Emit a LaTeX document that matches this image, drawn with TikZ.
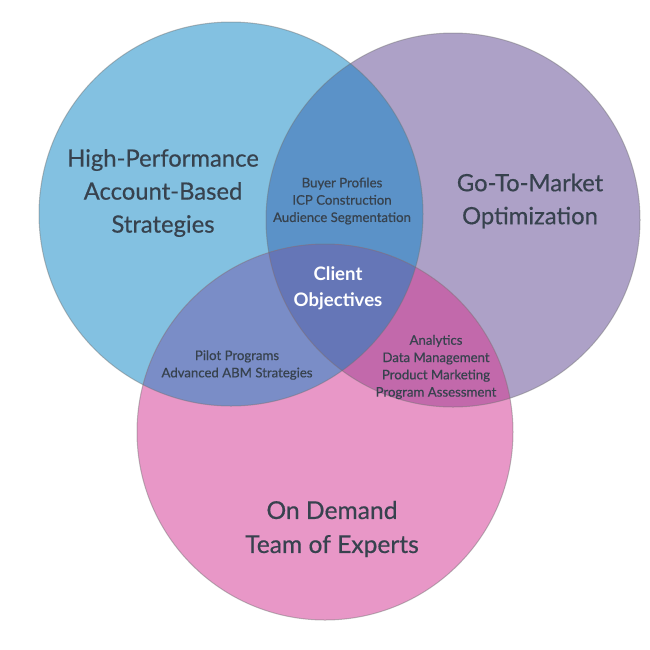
\documentclass[tikz,border=0pt]{standalone}
\usepackage{fontspec}
\setmainfont{Lato}
\newfontfamily\latomed[FakeBold=0.5]{Lato}
\definecolor{cblue}{RGB}{131,193,225}
\definecolor{cpurple}{RGB}{173,161,199}
\definecolor{cpink}{RGB}{232,151,199}
\definecolor{cbp}{RGB}{91,146,200}
\definecolor{cbk}{RGB}{122,141,199}
\definecolor{cpk}{RGB}{194,105,171}
\definecolor{cmid}{RGB}{101,118,183}
\definecolor{ctext}{RGB}{55,66,78}
\tikzset{
  bigtitle/.style={text=ctext, align=center, font=\latomed\fontsize{23.8}{33}\selectfont},
  hugetitle/.style={text=ctext, align=center, font=\latomed\fontsize{24.6}{34}\selectfont},
  smalltext/.style={text=ctext, align=center, font=\latomed\fontsize{13.2}{17.3}\selectfont},
  midtext/.style={text=white, align=center, font=\fontsize{18.6}{26}\selectfont\bfseries},
  rim/.style={draw=black!55, draw opacity=0.45, line width=1pt}
}
\begin{document}
\begin{tikzpicture}[x=1pt,y=-1pt]
\useasboundingbox (0,0) rectangle (650,649);
\coordinate (cb) at (231,214);
\coordinate (cp) at (453,220);
\coordinate (ck) at (325,432);
% base circles
\fill[cpurple] (cp) circle[radius=187pt];
\fill[cblue] (cb) circle[radius=192pt];
\fill[cpink] (ck) circle[radius=188pt];
% pairwise overlaps
\begin{scope}
  \clip (cb) circle[radius=192pt];
  \fill[cbp] (cp) circle[radius=187pt];
\end{scope}
\begin{scope}
  \clip (cb) circle[radius=192pt];
  \fill[cbk] (ck) circle[radius=188pt];
\end{scope}
\begin{scope}
  \clip (cp) circle[radius=187pt];
  \fill[cpk] (ck) circle[radius=188pt];
\end{scope}
% triple overlap
\begin{scope}
  \clip (cb) circle[radius=192pt];
  \clip (cp) circle[radius=187pt];
  \fill[cmid] (ck) circle[radius=188pt];
\end{scope}
% rims
\draw[rim] (cp) circle[radius=187pt];
\draw[rim] (cb) circle[radius=192pt];
\draw[rim] (ck) circle[radius=188pt];
% texts
\node[bigtitle] (hp) at (163,193) {High-Performance\\Account-Based\\Strategies};
\node[bigtitle] (gtm) at (530,201) {Go-To-Market\\Optimization};
\node[hugetitle] (od) at (332,529) {On Demand\\Team of Experts};
\node[smalltext] (bp) at (342,201) {Buyer Profiles\\ICP Construction\\Audience Segmentation};
\node[smalltext] (pp) at (237,365) {Pilot Programs\\Advanced ABM Strategies};
\node[smalltext] (an) at (436,367) {Analytics\\Data Management\\Product Marketing\\Program Assessment};
\node[midtext] (co) at (338,288) {Client\\Objectives};
\end{tikzpicture}
\end{document}
